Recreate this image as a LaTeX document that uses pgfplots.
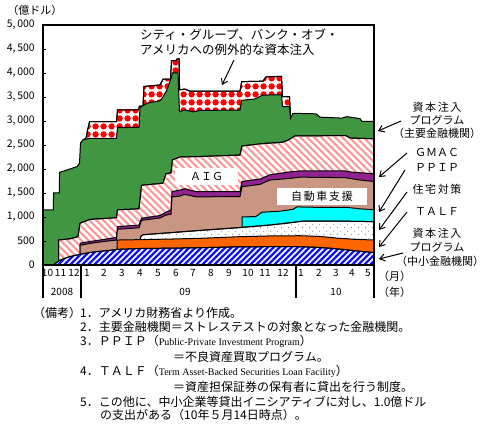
\documentclass[border=0pt]{standalone}
\usepackage{fontspec}
\setmainfont{Noto Sans CJK JP}
\newfontfamily\serifen{Liberation Serif}
\newfontfamily\jpwide[LetterSpace=15]{Noto Sans CJK JP}
\usepackage{pgfplots}
\pgfplotsset{compat=1.18}
\usepackage{pgfplotstable}
\usetikzlibrary{patterns,arrows.meta}

\pgfdeclarepatternformonly{bluestripes}{\pgfqpoint{-1pt}{-1pt}}{\pgfqpoint{7pt}{7pt}}{\pgfqpoint{6pt}{6pt}}{%
  \pgfsetlinewidth{2.2pt}\pgfpathmoveto{\pgfqpoint{-1pt}{-1pt}}\pgfpathlineto{\pgfqpoint{7pt}{7pt}}\pgfusepath{stroke}}
\pgfdeclarepatternformonly{pinkstripes}{\pgfqpoint{-1pt}{-1pt}}{\pgfqpoint{8pt}{8pt}}{\pgfqpoint{7pt}{7pt}}{%
  \pgfsetlinewidth{2pt}\pgfpathmoveto{\pgfqpoint{-1pt}{8pt}}\pgfpathlineto{\pgfqpoint{8pt}{-1pt}}\pgfusepath{stroke}}
\pgfdeclarepatternformonly{reddots}{\pgfpointorigin}{\pgfqpoint{7.6pt}{7.6pt}}{\pgfqpoint{7.6pt}{7.6pt}}{%
  \pgfpathcircle{\pgfqpoint{3.8pt}{3.8pt}}{3.35pt}\pgfusepath{fill}}
\pgfdeclarepatternformonly{graydots}{\pgfpointorigin}{\pgfqpoint{7pt}{7pt}}{\pgfqpoint{7pt}{7pt}}{%
  \pgfpathcircle{\pgfqpoint{1.75pt}{1.75pt}}{0.6pt}\pgfpathcircle{\pgfqpoint{5.25pt}{5.25pt}}{0.6pt}\pgfusepath{fill}}

\definecolor{cgreen}{RGB}{65,150,65}
\definecolor{cpurple}{RGB}{145,35,145}
\definecolor{cbrown}{RGB}{200,150,130}
\definecolor{corange}{RGB}{255,102,0}
\definecolor{ccyan}{RGB}{0,255,255}
\definecolor{cpink}{RGB}{255,150,150}
\definecolor{cblue}{RGB}{20,20,240}

% cumulative boundaries (top of each layer), x in chart units
\pgfplotstableread{
x y
53 0
56 40
60 100
65 140
70 175
75 200
80 222
90 260
100 285
110 305
117 326
130 335
145 347
170 350
200 360
230 375
260 380
296 382
315 370
330 350
345 320
360 285
374 260
}\BOne
\pgfplotstableread{
x y
117 520
140 528
170 540
200 556
240 590
270 605
300 610
320 595
337 560
355 535
374 520
}\BTwo
\pgfplotstableread{
x y
140 530
141 600
143 630
165 665
200 720
240 780
270 833
290 880
303 915
340 915
374 903
}\BThree
\pgfplotstableread{
x y
242 1000
256 1010
262 1100
280 1120
293 1160
297 1210
320 1200
347 1200
360 1170
374 1150
}\BFour
\pgfplotstableread{
x y
80 410
90 450
100 480
116.5 520
117.5 745
139 775
141.5 930
160 980
166 1040
171 1060
172 1420
180 1435
184 1470
190 1450
196 1420
240 1425
242 1630
260 1680
270 1770
290 1805
300 1830
345 1820
360 1770
374 1740
}\BFive
\pgfplotstableread{
x y
80 455
90 490
100 520
116.5 575
117.5 800
139 830
141.5 975
160 1030
166 1100
171 1146
172 1530
180 1560
185 1590
190 1560
196 1530
240 1530
242 1740
260 1790
270 1880
290 1940
300 1960
345 1960
352 1935
374 1900
}\BSix
\pgfplotstableread{
x y
58.5 520
70 545
78 590
80 870
90 950
116.5 985
117.5 1150
139 1170
141.5 1660
163 1705
166 1900
171 1920
172.5 2190
180 2250
200 2260
240 2290
242 2480
263 2530
282 2555
288 2600
295 2690
346 2695
350 2645
374 2630
}\BSeven
\pgfplotstableread{
x y
43 1150
53.3 1150
53.6 1500
59.3 1500
59.6 1930
65 1965
77 2050
79.5 2120
80.5 2535
83 2610
90 2640
116.5 2640
117.5 2860
139 2870
140 3280
147 3370
160 3420
163 3500
167 3650
171 3890
172.5 4000
178 4000
179.5 3194
185 3230
193 3190
200 3220
240 3229
241.7 3430
255 3460
263 3540
281.5 3545
282.5 3299
289.5 3299
290.5 3055
293 3160
316 3150
320 3080
342 3060
347 3090
360 3050
362 2990
374 2990
}\BEight
\pgfplotstableread{
x y
80.5 2535
84 2620
86 2645
87.5 2800
89.5 2985
116.5 2985
117.5 3230
138.5 3235
139.5 3310
143 3310
144 3720
160 3750
163 3870
170.5 3875
171.5 4255
176 4260
177 4290
179 4300
179.6 3650
185 3665
190 3620
240 3620
241.7 3820
263 3830
266 3920
281.5 3930
282.5 3507
289.5 3507
290.5 3055
}\BNine

\begin{document}
\begin{tikzpicture}
\useasboundingbox (0pt,0pt) rectangle (485pt,-425pt);
\begin{axis}[
  at={(43pt,-265pt)}, anchor=south west,
  scale only axis, width=331pt, height=240pt,
  xmin=43, xmax=374, ymin=0, ymax=5000,
  axis on top,
  axis line style={line width=1.2pt},
  tick align=inside, major tick length=3pt,
  ytick pos=left, xtick pos=bottom,
  ytick={0,500,...,5000},
  yticklabels={0,500,{1,\,000},{1,\,500},{2,\,000},{2,\,500},{3,\,000},{3,\,500},{4,\,000},{4,\,500},{5,\,000}},
  ytick style={line width=0.8pt,black},
  yticklabel style={font=\fontsize{10.5}{12}\selectfont, inner sep=0pt, xshift=-8pt},
  xtick={47.5,60.5,74,87,104,122,140,158,176,193,211,229,248,265,283,301,319,336,352,368},
  xticklabels={10,11,12,1,2,3,4,5,6,7,8,9,10,11,12,1,2,3,4,5},
  xtick style={draw=none},
  xticklabel style={font=\fontsize{10}{12}\selectfont, inner sep=0pt, yshift=-4pt},
]
\addplot[draw=black, line width=1pt, preaction={fill=white}, pattern=reddots, pattern color=red] table {\BNine} \closedcycle;
\addplot[draw=black, line width=1pt, fill=cgreen] table {\BEight} \closedcycle;
\addplot[draw=black, line width=1pt, preaction={fill=white}, pattern=pinkstripes, pattern color=cpink] table {\BSeven} \closedcycle;
\addplot[draw=black, line width=1pt, fill=cpurple] table {\BSix} \closedcycle;
\addplot[draw=black, line width=1pt, fill=cbrown] table {\BFive} \closedcycle;
\addplot[draw=black, line width=1pt, fill=ccyan] table {\BFour} \closedcycle;
\addplot[draw=black, line width=1pt, preaction={fill=white}, pattern=graydots, pattern color=gray] table {\BThree} \closedcycle;
\addplot[draw=black, line width=1pt, fill=corange] table {\BTwo} \closedcycle;
\addplot[draw=black, line width=1pt, preaction={fill=white}, pattern=bluestripes, pattern color=cblue] table {\BOne} \closedcycle;
\end{axis}

% year separators
\foreach \xx in {43,81,296,374} \draw[line width=1.2pt] (\xx pt,-265pt) -- (\xx pt,-298pt);
\node[font=\fontsize{10}{12}\selectfont] at (62pt,-292pt) {2008};
\node[font=\fontsize{10}{12}\selectfont] at (185pt,-292pt) {09};
\node[font=\fontsize{10}{12}\selectfont] at (336pt,-292pt) {10};
\node[anchor=west, inner sep=0pt, font=\fontsize{11}{12}\selectfont] at (378pt,-276pt) {（月）};
\node[anchor=west, inner sep=0pt, font=\fontsize{11}{12}\selectfont] at (378pt,-292pt) {（年）};

\node[font=\fontsize{11}{12}\selectfont] at (35pt,-10pt) {（億ドル）};

% in-plot boxes
\node[fill=white, minimum width=63pt, minimum height=17pt, inner sep=0pt, font=\fontsize{11}{12}\selectfont] at (206.5pt,-176.5pt) {ＡＩＧ};
\node[fill=white, minimum width=90pt, minimum height=17pt, inner sep=0pt, font=\fontsize{11}{12}\selectfont] at (322pt,-196.5pt) {\jpwide 自動車支援};

% top annotation
\node[anchor=west, inner sep=0pt, font=\fontsize{12.5}{14}\selectfont] at (140pt,-35pt) {シティ・グループ、バンク・オブ・};
\node[anchor=west, inner sep=0pt, font=\fontsize{12.5}{14}\selectfont] at (140pt,-50pt) {アメリカへの例外的な資本注入};
\draw[line width=1pt, -{Straight Barb[length=5pt,width=7pt]}] (234pt,-60pt) -- (222pt,-85pt);

% right labels
\begin{scope}[every node/.style={font=\fontsize{11}{12}\selectfont, inner sep=0pt}]
\node at (437pt,-107pt) {\jpwide 資本注入};
\node at (437pt,-120pt) {プログラム};
\node at (437pt,-133pt) {（主要金融機関）};
\node at (437pt,-152pt) {ＧＭＡＣ};
\node at (437pt,-167pt) {ＰＰＩＰ};
\node at (437pt,-189pt) {\jpwide 住宅対策};
\node at (437pt,-211pt) {ＴＡＬＦ};
\node at (437pt,-233pt) {\jpwide 資本注入};
\node at (437pt,-247pt) {プログラム};
\node at (440pt,-261pt) {（中小金融機関）};
\end{scope}
\begin{scope}[line width=1pt, -{Straight Barb[length=5pt,width=7pt]}]
\draw (401pt,-121pt) -- (378pt,-131pt);
\draw (407pt,-153pt) -- (379pt,-177pt);
\draw (405pt,-170pt) -- (379pt,-212pt);
\draw (407pt,-192pt) -- (379pt,-230pt);
\draw (407pt,-212pt) -- (379pt,-247pt);
\draw (403pt,-253pt) -- (379pt,-259pt);
\end{scope}

% notes
\begin{scope}[every node/.style={anchor=west, inner sep=0pt, font=\fontsize{12}{14}\selectfont}]
\node at (33pt,-312.7pt) {（備考）};
\node at (80pt,-312.7pt) {1．アメリカ財務省より作成。};
\node at (80pt,-326.7pt) {2．主要金融機関＝ストレステストの対象となった金融機関。};
\node at (80pt,-341.7pt) {3．ＰＰＩＰ（{\serifen\fontsize{10}{12}\selectfont Public-Private Investment Program}）};
\node at (173pt,-356.7pt) {＝不良資産買取プログラム。};
\node at (80pt,-371.7pt) {4．ＴＡＬＦ（{\serifen\fontsize{10}{12}\selectfont Term Asset-Backed Securities Loan Facility}）};
\node at (173pt,-386.7pt) {＝資産担保証券の保有者に貸出を行う制度。};
\node at (80pt,-401.7pt) {5．この他に、中小企業等貸出イニシアティブに対し、1.0億ドル};
\node at (100pt,-415pt) {の支出がある（10年５月14日時点）。};
\end{scope}
\end{tikzpicture}
\end{document}
